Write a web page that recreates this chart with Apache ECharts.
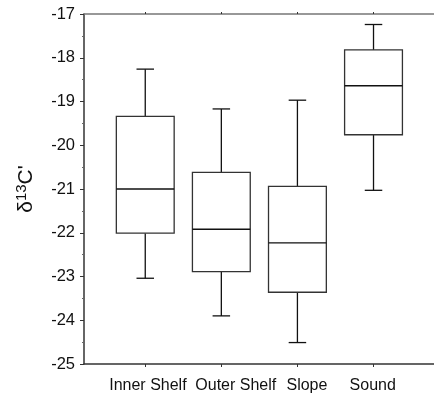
<!DOCTYPE html>
<html>
<head>
<meta charset="utf-8">
<script src="https://cdn.jsdelivr.net/npm/echarts@6/dist/echarts.min.js"></script>
<style>
  html, body { margin: 0; padding: 0; background: #fff; }
  #chart { width: 434px; height: 395px; }
</style>
</head>
<body>
<div id="chart"></div>
<script>
// groups on the x axis (placed at 1..4)
const categories = ['Inner Shelf', 'Outer Shelf', 'Slope', 'Sound']
const positions = [1, 2, 3, 4]
// box plot stats
const whiskerLow = [-23.04, -23.90, -24.51, -21.03]
const q1 = [-22.01, -22.89, -23.36, -19.76]
const median = [-21.00, -21.92, -22.23, -18.64]
const q3 = [-19.34, -20.62, -20.94, -17.82]
const whiskerHigh = [-18.26, -19.17, -18.97, -17.24]
const yTicks = [-25, -24, -23, -22, -21, -20, -19, -18, -17]

// the original figure's labels sit a bit off their ticks
const labelAt = [1.035, 2.19, 3.125, 3.99]

const boxData = positions.map((p, i) => [p, whiskerLow[i], q1[i], median[i], q3[i], whiskerHigh[i]])

const BOX_HALF = 0.38   // in x units
const CAP_HALF = 0.115

function renderBox(params, api) {
  const x = api.value(0)
  const lo = api.value(1), b1 = api.value(2), md = api.value(3), b3 = api.value(4), hi = api.value(5)
  const tl = api.coord([x - BOX_HALF, b3])
  const br = api.coord([x + BOX_HALF, b1])
  const cLo = api.coord([x, lo])
  const cHi = api.coord([x, hi])
  const cB1 = api.coord([x, b1])
  const cB3 = api.coord([x, b3])
  const mL = api.coord([x - BOX_HALF, md])
  const mR = api.coord([x + BOX_HALF, md])
  const capW = api.coord([x + CAP_HALF, lo])[0] - cLo[0]
  const line = { stroke: '#111', lineWidth: 1.3 }
  return {
    type: 'group',
    children: [
      { type: 'line', shape: { x1: cHi[0], y1: cHi[1], x2: cB3[0], y2: cB3[1] }, style: line },
      { type: 'line', shape: { x1: cLo[0], y1: cLo[1], x2: cB1[0], y2: cB1[1] }, style: line },
      { type: 'line', shape: { x1: cHi[0] - capW, y1: cHi[1], x2: cHi[0] + capW, y2: cHi[1] }, style: line },
      { type: 'line', shape: { x1: cLo[0] - capW, y1: cLo[1], x2: cLo[0] + capW, y2: cLo[1] }, style: line },
      { type: 'rect', shape: { x: tl[0], y: tl[1], width: br[0] - tl[0], height: br[1] - tl[1] },
        style: { fill: '#fff', stroke: '#333', lineWidth: 1.3 } },
      { type: 'line', shape: { x1: mL[0], y1: mL[1], x2: mR[0], y2: mR[1] }, style: line }
    ]
  }
}

const chart = echarts.init(document.getElementById('chart'))
const xMin = 0.195, xMax = 4.795
const option = {
  animation: false,
  textStyle: { fontFamily: 'Liberation Sans, Arial, sans-serif' },
  grid: { left: 84, right: 0, top: 14, bottom: 31 },
  xAxis: [
    {
      type: 'value', min: xMin, max: xMax, position: 'bottom',
      splitLine: { show: false },
      axisLine: { lineStyle: { color: '#333', width: 1.5 } },
      axisTick: { customValues: positions, length: 3, lineStyle: { color: '#333' } },
      axisLabel: {
        customValues: labelAt, margin: 14, color: '#111', fontSize: 16, hideOverlap: false,
        formatter: v => {
          const i = labelAt.findIndex(p => Math.abs(p - v) < 1e-6)
          return i >= 0 ? categories[i] : ''
        }
      }
    },
    {
      type: 'value', min: xMin, max: xMax, position: 'top',
      splitLine: { show: false },
      axisLine: { lineStyle: { color: '#777', width: 1.5 } },
      axisTick: { customValues: positions, length: 2, lineStyle: { color: '#333' } },
      axisLabel: { show: false }
    }
  ],
  yAxis: {
    type: 'value', min: yTicks[0], max: yTicks[yTicks.length - 1], interval: 1,
    splitLine: { show: false },
    axisLine: { show: true, lineStyle: { color: '#333', width: 1.5 } },
    axisTick: { length: 4, lineStyle: { color: '#333' } },
    minorTick: { show: true, splitNumber: 2, length: 2, lineStyle: { color: '#666' } },
    axisLabel: { margin: 9, color: '#111', fontSize: 16.5 },
    name: '{a|δ}{s|13}{a|C\'}',
    nameLocation: 'middle',
    nameRotate: 90,
    nameGap: 45,
    nameTextStyle: {
      rich: {
        a: { fontSize: 21, color: '#111', lineHeight: 25 },
        s: { fontSize: 15, color: '#111', verticalAlign: 'top', lineHeight: 25 }
      }
    }
  },
  series: [{
    type: 'custom',
    xAxisIndex: 0,
    renderItem: renderBox,
    encode: { x: 0, y: [1, 2, 3, 4, 5] },
    data: boxData
  }]
}
chart.setOption(option)
</script>
</body>
</html>
